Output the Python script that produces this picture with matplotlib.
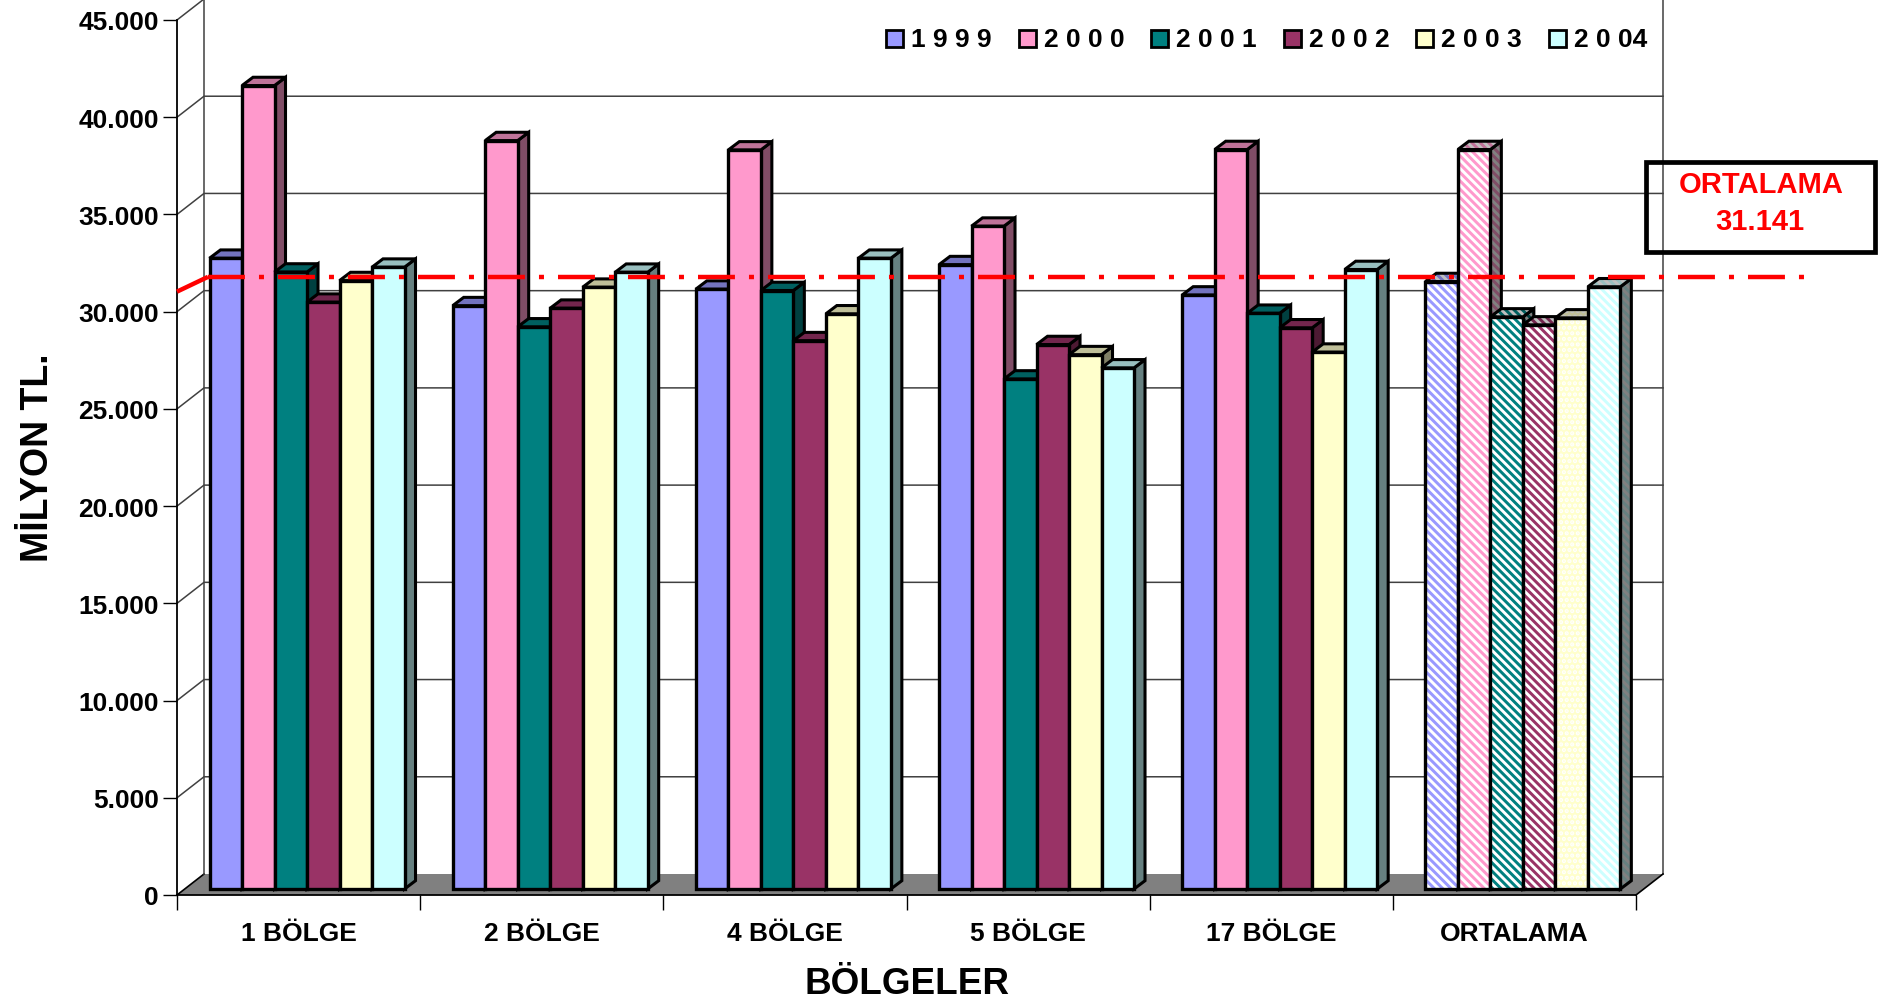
import matplotlib
matplotlib.use('Agg')
import matplotlib.pyplot as plt
from matplotlib.patches import Rectangle
from matplotlib.transforms import Affine2D

regions = ['1 BÖLGE', '2 BÖLGE', '4 BÖLGE', '5 BÖLGE', '17 BÖLGE', 'ORTALAMA']
years = ['1 9 9 9', '2 0 0 0', '2 0 0 1', '2 0 0 2', '2 0 0 3', '2 0 04']
colors = ['#9999FF', '#FF99CC', '#008080', '#993366', '#FFFFCC', '#CCFFFF']

v1999 = [32440, 30000, 30850, 32110, 30550, 31240]
v2000 = [41320, 38490, 38010, 34090, 38030, 38030]
v2001 = [31730, 28910, 30780, 26230, 29610, 29420]
v2002 = [30180, 29870, 28200, 28000, 28860, 29010]
v2003 = [31290, 30950, 29580, 27480, 27610, 29370]
v2004 = [31980, 31720, 32440, 26800, 31860, 30970]
series = [v1999, v2000, v2001, v2002, v2003, v2004]
hatches = ['\\\\\\\\', '\\\\\\\\', '\\\\\\\\', '\\\\\\\\', '...', '\\\\\\\\']
average = 31141
# the red line is hand drawn in the original, it starts at the axis and levels off
line_start = 31030
line_level = 31790
yticks = list(range(0, 45001, 5000))

plt.rcParams['font.family'] = ['Liberation Sans']
plt.rcParams['font.weight'] = 'bold'
plt.rcParams['hatch.linewidth'] = 2.1
plt.rcParams['lines.scale_dashes'] = False

W, H = 1888, 1003
fig = plt.figure(figsize=(W / 100, H / 100), dpi=100)
# pixel coordinates, origin top left, for the things that sit outside the scales
px = Affine2D().scale(1, -1).translate(0, H)

ax = fig.add_axes([177 / W, 1 - 896 / H, (1636 - 177) / W, (896 - 21) / H])
ax.set_xlim(0, 6)
ax.set_ylim(0, 45000)
ax.set_axisbelow(True)
for s in ['top', 'right']:
    ax.spines[s].set_visible(False)
for s in ['left', 'bottom']:
    ax.spines[s].set_linewidth(1.3)

# size of one pixel in data units
PX = 6 / (1636 - 177)
PY = 45000 / (896 - 21)
wall_x, wall_y = 27 * PX, 21 * PY
base_x, base_y = 8.2 * PX, 6 * PY
depth_x, depth_y = 11 * PX, 8.3 * PY
bar_w = 32.5 * PX


def shade(c, f):
    rgb = matplotlib.colors.to_rgb(c)
    return tuple(i * f for i in rgb)


# floor and walls
ax.fill([0, wall_x, 6 + wall_x, 6], [0, wall_y, wall_y, 0], color='#808080', lw=0, zorder=0.5, clip_on=False)
grid = dict(color='#404040', lw=1.1, zorder=0.7, clip_on=False)
for t in yticks:
    if t == 0:
        ax.plot([0, wall_x], [t, t + wall_y], color='black', lw=1.2, zorder=0.7, clip_on=False)
    else:
        ax.plot([0, wall_x, 6 + wall_x], [t, t + wall_y, t + wall_y], **grid)
ax.plot([wall_x, wall_x], [wall_y, 45000 + wall_y], **grid)
ax.plot([6 + wall_x, 6 + wall_x], [wall_y, 45000 + wall_y], **grid)
ax.plot([6, 6 + wall_x], [0, wall_y], color='black', lw=1.2, zorder=0.7, clip_on=False)

# bars, left to right so each front face covers the neighbour's side
for g in range(len(regions)):
    for i, vals in enumerate(series):
        c = colors[i]
        left = g + 0.1 + base_x + i * bar_w
        right = left + bar_w
        top = vals[g] + base_y
        striped = regions[g] == 'ORTALAMA'
        side_x = [right, right + depth_x, right + depth_x, right]
        side_y = [base_y, base_y + depth_y, top + depth_y, top]
        top_x = [left, left + depth_x, right + depth_x, right]
        top_y = [top, top + depth_y, top + depth_y, top]
        for xs, ys, f in [(side_x, side_y, 0.5), (top_x, top_y, 0.75)]:
            if striped:
                ax.fill(xs, ys, facecolor=shade(c, f), edgecolor=shade('white', f), hatch=hatches[i], lw=0, zorder=2, clip_on=False)
            else:
                ax.fill(xs, ys, color=shade(c, f), lw=0, zorder=2, clip_on=False)
            ax.fill(xs, ys, fill=False, edgecolor='black', lw=2.2, zorder=2, clip_on=False, joinstyle='miter')
        if striped:
            ax.bar(left, vals[g], bar_w, bottom=base_y, align='edge', facecolor=c, edgecolor='white', hatch=hatches[i], lw=0, zorder=2)
            ax.bar(left, vals[g], bar_w, bottom=base_y, align='edge', fill=False, edgecolor='black', lw=2.4, zorder=2)
        else:
            ax.bar(left, vals[g], bar_w, bottom=base_y, align='edge', color=c, edgecolor='black', lw=2.4, zorder=2)

# average line
line_end = (1805 - 177) * PX
line_knee = 31 * PX
ax.plot([0, line_knee], [line_start, line_level], color='red', lw=3.2, zorder=5, clip_on=False, solid_capstyle='butt')
ax.plot([line_knee, line_end], [line_level, line_level], color='red', lw=3.2, zorder=5, clip_on=False,
        linestyle=(0, (26.6, 10.1, 3.6, 10.1)), dash_capstyle='butt')

# axes
ax.set_yticks(yticks)
ax.set_yticklabels(['0' if t == 0 else f'{t:,}'.replace(',', '.') for t in yticks], fontsize=19, fontweight='bold')
ax.tick_params(axis='y', length=10, width=1.0, pad=3)
ax.set_xticks(range(7))
ax.set_xticklabels([])
ax.tick_params(axis='x', which='major', length=11, width=1.0)
ax.set_xticks([g + 0.5 for g in range(6)], minor=True)
ax.set_xticklabels(regions, minor=True, fontsize=19, fontweight='bold')
ax.tick_params(axis='x', which='minor', length=0, pad=19)
ax.set_xlabel('BÖLGELER', fontsize=26.6, fontweight='bold', va='center', ha='center')
ax.xaxis.set_label_coords(907, 985, transform=px)
ax.set_ylabel('MİLYON TL.', fontsize=27, fontweight='bold', va='center', ha='center')
ax.yaxis.set_label_coords(38, 458, transform=px)

# legend
for i, y in enumerate(years):
    lx = 886 + i * 132.6
    fig.add_artist(Rectangle((lx, 31), 17, 17, transform=px, facecolor=colors[i], edgecolor='black', lw=2.0))
    fig.text(lx + 25, 40, y, transform=px, fontsize=19, fontweight='bold', va='center', ha='left')

# average box
fig.add_artist(Rectangle((1646, 163), 229, 90, transform=px, fill=False, edgecolor='black', lw=3.4, joinstyle='miter', zorder=6))
fig.text(1761, 185, 'ORTALAMA', transform=px, color='red', fontsize=21, fontweight='bold', va='center', ha='center')
fig.text(1760, 222, f'{average:,}'.replace(',', '.'), transform=px, color='red', fontsize=21, fontweight='bold', va='center', ha='center')

fig.savefig('out.png', dpi=100)
